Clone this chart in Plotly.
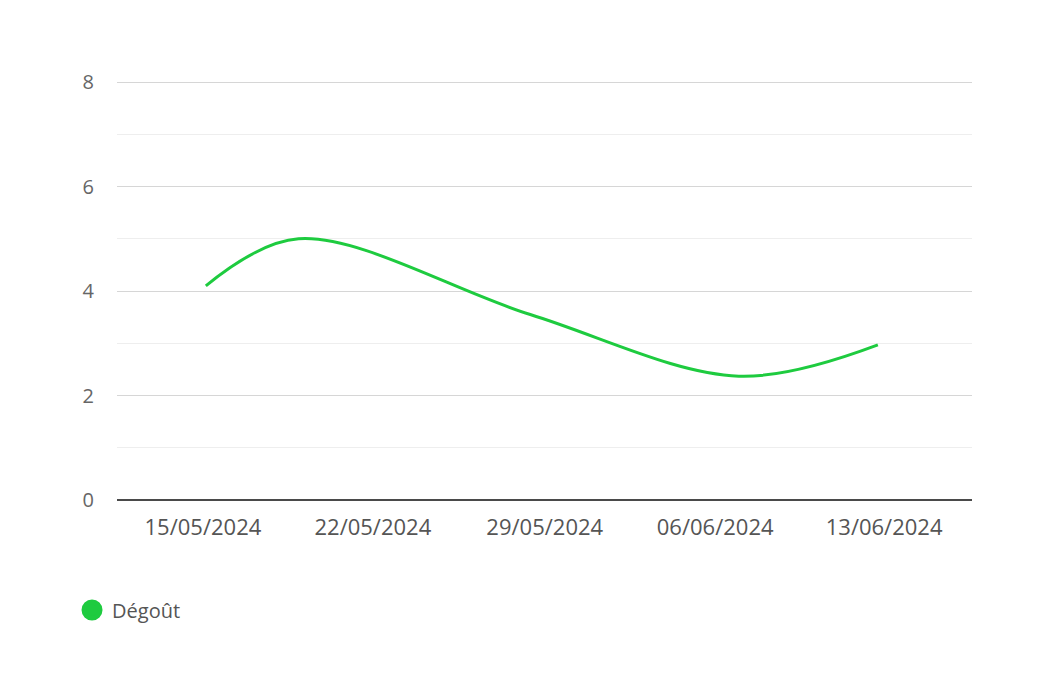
import plotly.graph_objects as go

# ── Data ───────────────────────────────────────────────────────────────────
dates  = ["2024-05-15", "2024-05-19", "2024-05-29", "2024-06-07", "2024-06-13"]
degout = [4.1, 5.0, 3.55, 2.37, 2.97]

# label anchors as they sit in the original (roughly evenly spaced)
tick_dates  = ["2024-05-14 21:00", "2024-05-22 05:00", "2024-05-29 15:00",
               "2024-06-05 23:30", "2024-06-13 06:30"]
tick_labels = ["15/05/2024", "22/05/2024", "29/05/2024", "06/06/2024", "13/06/2024"]
y_ticks = [0, 2, 4, 6, 8]

GREEN = "#1ecb3f"
TEXT  = "#666666"
FONT  = "Open Sans, Arial"

fig = go.Figure()

# the curve itself (legend entry comes from the marker trace below)
fig.add_trace(go.Scatter(
    x=dates, y=degout,
    mode="lines",
    line=dict(color=GREEN, width=3, shape="spline", smoothing=1.0),
    name="Dégoût",
    showlegend=False,
    hovertemplate="%{x|%d/%m/%Y}<br>Dégoût: %{y}<extra></extra>",
))

# legend-only trace so the legend shows a round dot
fig.add_trace(go.Scatter(
    x=[None], y=[None],
    mode="markers",
    marker=dict(color=GREEN, size=16, symbol="circle",
                line=dict(color=GREEN, width=5)),
    name="Dégoût",
))

# page body has an 8px margin, so the figure is shifted by that much
fig.update_layout(
    width=1044, height=683,
    paper_bgcolor="white", plot_bgcolor="white",
    font=dict(family=FONT, color=TEXT, size=20),
    margin=dict(l=109, r=80, t=72, b=191),
    showlegend=True,
    legend=dict(
        orientation="h",
        x=-0.0526, xanchor="left",
        y=-0.262, yanchor="middle",
        font=dict(size=20, color="#555555"),
    ),
)

fig.update_xaxes(
    type="date",
    range=["2024-05-11 04:00", "2024-06-17 01:30"],
    tickvals=tick_dates,
    ticktext=tick_labels,
    showgrid=False,
    showline=False,
    zeroline=False,
    ticks="",
    ticklabelstandoff=12,
    tickfont=dict(size=22, color="#555555"),
)

fig.update_yaxes(
    range=[0, 8.04],
    tickvals=y_ticks,
    showgrid=True, gridcolor="#d6d6d6", gridwidth=1,
    minor=dict(dtick=1, showgrid=True, gridcolor="#eeeeee", gridwidth=1),
    zeroline=True, zerolinecolor="#4a4a4a", zerolinewidth=1.5,
    ticks="",
    ticklabelstandoff=22,
    tickfont=dict(size=20, color=TEXT),
    fixedrange=True,
)

fig.write_html("out.html")
